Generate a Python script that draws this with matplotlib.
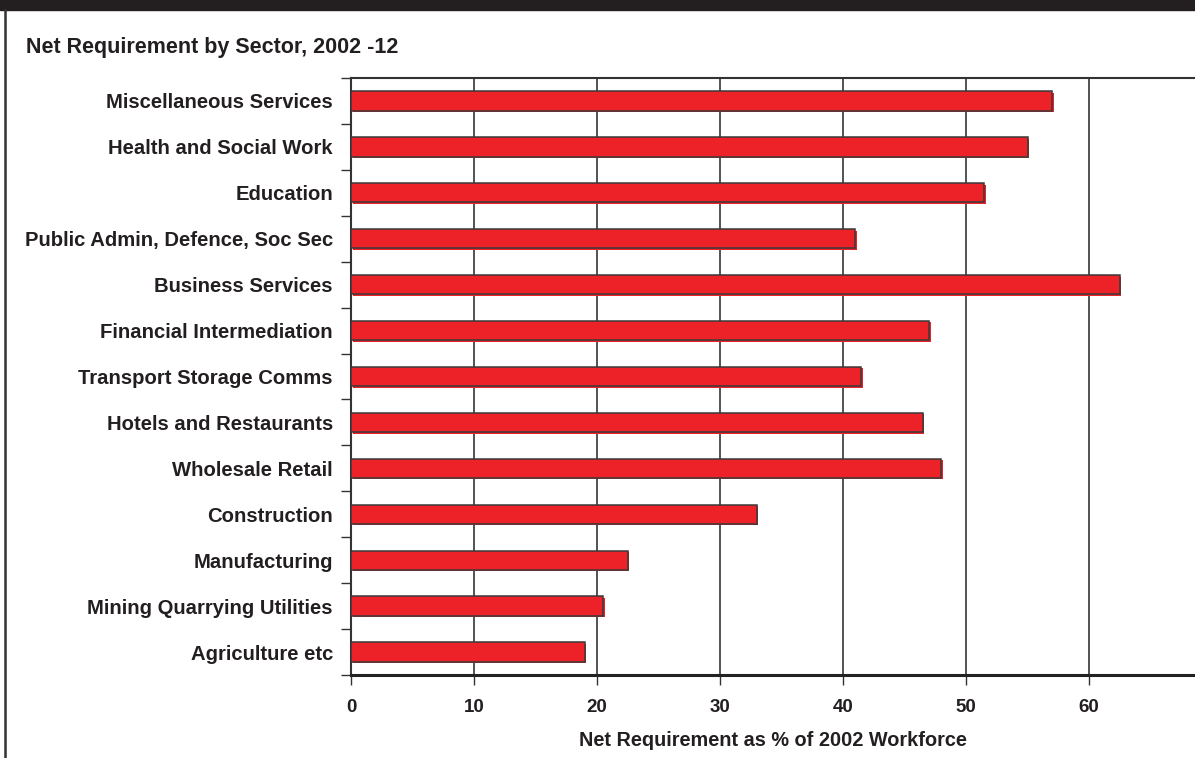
import numpy as np
import matplotlib
matplotlib.use('Agg')
import matplotlib.pyplot as plt
import matplotlib.transforms as mtransforms
from matplotlib.lines import Line2D
from matplotlib.patches import Rectangle

sectors = ['Miscellaneous Services', 'Health and Social Work', 'Education',
           'Public Admin, Defence, Soc Sec', 'Business Services',
           'Financial Intermediation', 'Transport Storage Comms',
           'Hotels and Restaurants', 'Wholesale Retail', 'Construction',
           'Manufacturing', 'Mining Quarrying Utilities', 'Agriculture etc']
net_req = [57.0, 55.0, 51.5, 41.0, 62.5, 47.0, 41.5, 46.5, 48.0, 33.0,
           22.5, 20.5, 19.0]
xticks = [0, 10, 20, 30, 40, 50, 60]

TXT = '#231f20'
RED = '#ed2228'
plt.rcParams['font.family'] = ['Liberation Sans', 'DejaVu Sans']

fig = plt.figure(figsize=(11.95, 7.58), dpi=100)
# dark band on top and left frame line
fig.patches.append(Rectangle((0, 1 - 10/758), 1, 10/758, transform=fig.transFigure,
                             color=TXT, zorder=0))
fig.lines.append(Line2D([5/1195, 5/1195], [0, 1 - 10/758], transform=fig.transFigure,
                        color='#333333', lw=1.8))

ax = fig.add_axes([351/1195, 83/758, 844/1195, 597/758])
n = len(sectors)
y = np.arange(n)[::-1]

# slight offset copy gives the bevelled look of the original bars
shift = mtransforms.offset_copy(ax.transData, fig=fig, x=1.5, y=-1.5, units='dots')
sh = ax.barh(y, net_req, height=0.42, color=RED, lw=0, zorder=2)
for p in sh:
    p.set_transform(shift)
ax.barh(y, net_req, height=0.42, color=RED, edgecolor='#3a3a3a', lw=1.1, zorder=3)

ax.set_xlim(0, 844/12.3)
ax.set_ylim(-0.5, n - 0.5)
ax.set_xticks(xticks)
ax.set_xticklabels([str(t) for t in xticks], fontsize=13.5, fontweight='bold', color=TXT)
ax.set_yticks(y)
ax.set_yticklabels(sectors, fontsize=14.6, fontweight='bold', color=TXT)
ax.set_yticks(np.arange(-0.5, n, 1), minor=True)
ax.tick_params(axis='y', which='major', length=0, pad=13)
ax.tick_params(axis='y', which='minor', length=7, width=1, color='#333333')
ax.tick_params(axis='x', length=7, width=1, color='#333333', pad=10)
ax.grid(axis='x', color='#444444', lw=1.3, zorder=1)
ax.spines['right'].set_visible(False)
ax.spines['bottom'].set_linewidth(2.2)
ax.spines['bottom'].set_color('#222222')
ax.spines['left'].set_linewidth(1.5)
ax.spines['left'].set_color('#333333')
ax.spines['top'].set_linewidth(1.5)
ax.spines['top'].set_color('#333333')
ax.set_xlabel('Net Requirement as % of 2002 Workforce', fontsize=14.3,
              fontweight='bold', color=TXT, labelpad=11)

fig.text(26/1195, 1 - 47/758, 'Net Requirement by Sector, 2002 -12', fontsize=15.5,
         fontweight='bold', color=TXT, va='center', ha='left')

fig.savefig('out.png', dpi=100)
